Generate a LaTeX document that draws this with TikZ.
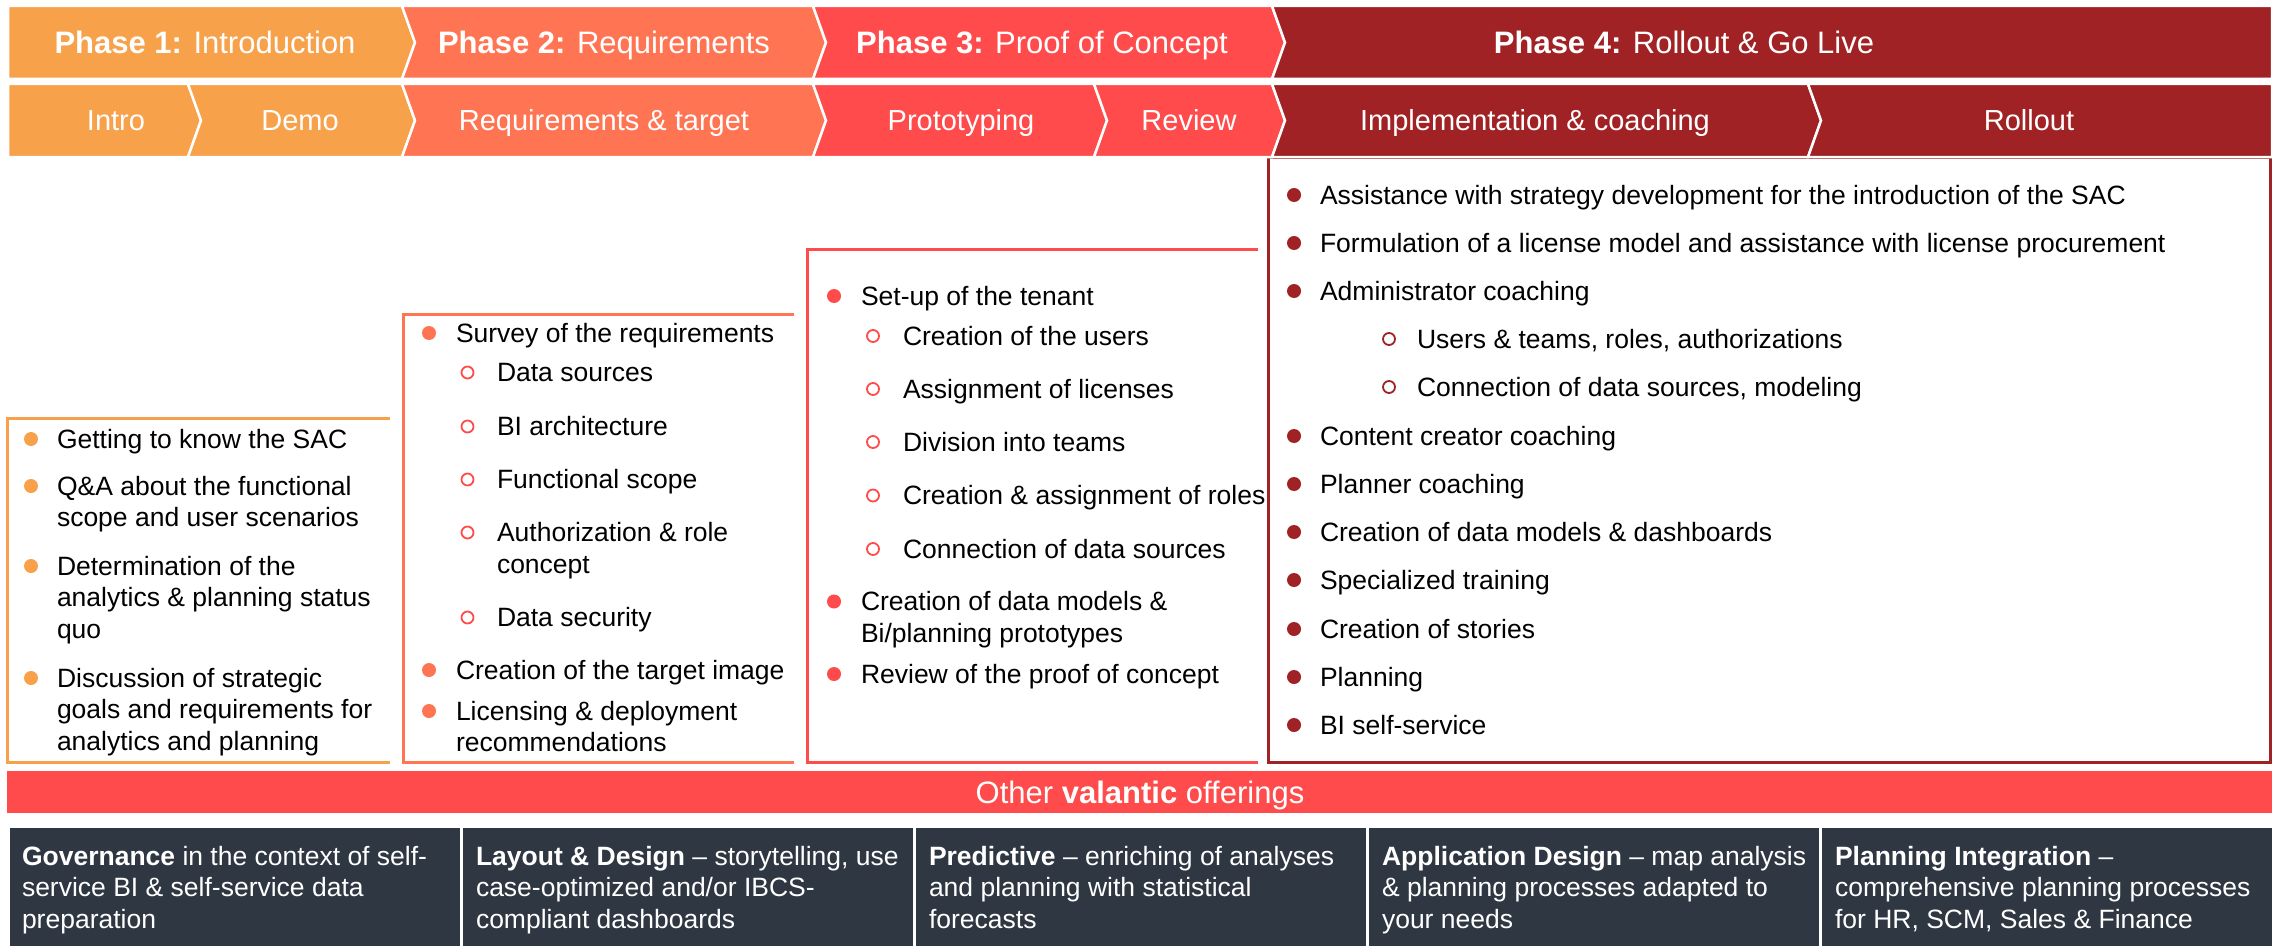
\documentclass[tikz,border=0pt]{standalone}
\usepackage{fontspec}
\setmainfont{Liberation Sans}
\definecolor{cA}{HTML}{F8A14B}
\definecolor{cB}{HTML}{FF7553}
\definecolor{cC}{HTML}{FF4B4B}
\definecolor{cD}{HTML}{A12224}
\definecolor{cDark}{HTML}{2F3742}
\newcommand{\bodyfont}{\fontsize{26.5}{31.7}\selectfont}
\newcommand{\txtlines}[1]{\parbox[t]{1000pt}{\bodyfont\raggedright #1}}
\newcommand{\bul}[6]{\node[dot=#2] (#1d) at (#3,#5-9) {}; \node[txt] (#1) at (#4,#5) {\txtlines{#6}};}
\newcommand{\subb}[6]{\node[ring=#2] (#1d) at (#3,#5-9) {}; \node[txt] (#1) at (#4,#5) {\txtlines{#6}};}
\newcommand{\subo}[6]{\node[oring=#2] (#1d) at (#3,#5-9) {}; \node[txt] (#1) at (#4,#5) {\txtlines{#6}};}
\begin{document}
\begin{tikzpicture}[x=1pt,y=-1pt,
  txt/.style={anchor=base west, inner sep=0pt, outer sep=0pt, text=black},
  wtxt/.style={txt, text=white},
  htxt/.style={anchor=base, inner sep=0pt, text=white, font=\fontsize{31}{37}\selectfont},
  h2txt/.style={anchor=base, inner sep=0pt, text=white, font=\fontsize{29}{35}\selectfont},
  dot/.style={circle, fill=#1, minimum size=14pt, inner sep=0pt},
  ring/.style={circle, draw=#1, line width=1.8pt, minimum size=12pt, inner sep=0pt},
  oring/.style={ellipse, draw=#1, line width=1.6pt, minimum width=9pt, minimum height=13pt, inner sep=0pt},
  chev/.style={fill=#1, draw=white, line width=2.5pt, line join=miter},
  boxline/.style={draw=#1, line width=3pt},
  darkbox/.style={fill=cDark, draw=white, line width=2.5pt, anchor=north west, minimum width=453pt, minimum height=121pt, inner sep=0pt}
]
\useasboundingbox (0,0) rectangle (2274,947);
\fill[white] (0,0) rectangle (2274,947);

% ---------- Box 1
\draw[boxline=cA] (390,418) -- (7,418) -- (7,762) -- (390,762);
\bul{a1}{cA}{31}{57}{448}{Getting to know the SAC}
\bul{a2}{cA}{31}{57}{495}{Q\&A about the functional\\scope and user scenarios}
\bul{a3}{cA}{31}{57}{575}{Determination of the\\analytics \& planning status\\quo}
\bul{a4}{cA}{31}{57}{687}{Discussion of strategic\\goals and requirements for\\analytics and planning}

% ---------- Box 2
\draw[boxline=cB] (794,314) -- (403,314) -- (403,762) -- (794,762);
\bul{b1}{cB}{429}{456}{342}{Survey of the requirements}
\subb{b2}{cC}{467.5}{497}{381.5}{Data sources}
\subb{b3}{cC}{467.5}{497}{435.5}{BI architecture}
\subb{b4}{cC}{467.5}{497}{488.5}{Functional scope}
\subb{b5}{cC}{467.5}{497}{541.5}{Authorization \& role\\concept}
\subb{b6}{cC}{467.5}{497}{626.5}{Data security}
\bul{b7}{cB}{429}{456}{679}{Creation of the target image}
\bul{b8}{cB}{429}{456}{720}{Licensing \& deployment\\recommendations}

% ---------- Box 3
\draw[boxline=cC] (1258,249) -- (807,249) -- (807,762) -- (1258,762);
\bul{c1}{cC}{834}{861}{305}{Set-up of the tenant}
\subb{c2}{cC}{873}{903}{345}{Creation of the users}
\subb{c3}{cC}{873}{903}{398}{Assignment of licenses}
\subb{c4}{cC}{873}{903}{451}{Division into teams}
\subb{c5}{cC}{873}{903}{504.5}{Creation \& assignment of roles}
\subb{c6}{cC}{873}{903}{558}{Connection of data sources}
\bul{c7}{cC}{834}{861}{610.5}{Creation of data models \&\\Bi/planning prototypes}
\bul{c8}{cC}{834}{861}{683}{Review of the proof of concept}

% ---------- Box 4
\path[fill=white, boxline=cD] (1268,157) rectangle (2270,762);
\bul{d1}{cD}{1294}{1320}{204}{Assistance with strategy development for the introduction of the SAC}
\bul{d2}{cD}{1294}{1320}{252}{Formulation of a license model and assistance with license procurement}
\bul{d3}{cD}{1294}{1320}{300}{Administrator coaching}
\subb{d4}{cD}{1389}{1417}{348}{Users \& teams, roles, authorizations}
\subb{d5}{cD}{1389}{1417}{396}{Connection of data sources, modeling}
\bul{d6}{cD}{1294}{1320}{445}{Content creator coaching}
\bul{d7}{cD}{1294}{1320}{493}{Planner coaching}
\bul{d8}{cD}{1294}{1320}{541}{Creation of data models \& dashboards}
\bul{d9}{cD}{1294}{1320}{589}{Specialized training}
\bul{d10}{cD}{1294}{1320}{638}{Creation of stories}
\bul{d11}{cD}{1294}{1320}{686}{Planning}
\bul{d12}{cD}{1294}{1320}{734}{BI self-service}

% ---------- Header row 1
\path[chev=cA] (8,6) -- (402,6) -- (415,42.5) -- (402,79) -- (8,79) -- cycle;
\path[chev=cB] (402,6) -- (813,6) -- (826,42.5) -- (813,79) -- (402,79) -- (415,42.5) -- cycle;
\path[chev=cC] (813,6) -- (1272,6) -- (1285,42.5) -- (1272,79) -- (813,79) -- (826,42.5) -- cycle;
\path[chev=cD] (1272,6) -- (2272,6) -- (2272,79) -- (1272,79) -- (1285,42.5) -- cycle;
\node[htxt] (p1) at (205,54) {\textbf{Phase 1:} Introduction};
\node[htxt] (p2) at (604,54) {\textbf{Phase 2:} Requirements};
\node[htxt] (p3) at (1042,54) {\textbf{Phase 3:} Proof of Concept};
\node[htxt] (p4) at (1684,54) {\textbf{Phase 4:} Rollout \& Go Live};

% ---------- Header row 2
\path[chev=cA] (8,84) -- (188,84) -- (201,120.5) -- (188,157) -- (8,157) -- cycle;
\path[chev=cA] (188,84) -- (402,84) -- (415,120.5) -- (402,157) -- (188,157) -- (201,120.5) -- cycle;
\path[chev=cB] (402,84) -- (813,84) -- (826,120.5) -- (813,157) -- (402,157) -- (415,120.5) -- cycle;
\path[chev=cC] (813,84) -- (1094,84) -- (1107,120.5) -- (1094,157) -- (813,157) -- (826,120.5) -- cycle;
\path[chev=cC] (1094,84) -- (1272,84) -- (1285,120.5) -- (1272,157) -- (1094,157) -- (1107,120.5) -- cycle;
\path[chev=cD] (1272,84) -- (1808,84) -- (1821,120.5) -- (1808,157) -- (1272,157) -- (1285,120.5) -- cycle;
\path[chev=cD] (1808,84) -- (2272,84) -- (2272,157) -- (1808,157) -- (1821,120.5) -- cycle;
\node[h2txt] (s1) at (116,131) {Intro};
\node[h2txt] (s2) at (300,131) {Demo};
\node[h2txt] (s3) at (604,131) {Requirements \& target};
\node[h2txt] (s4) at (961,131) {Prototyping};
\node[h2txt] (s5) at (1189,131) {Review};
\node[h2txt] (s6) at (1535,131) {Implementation \& coaching};
\node[h2txt] (s7) at (2029,131) {Rollout};

% ---------- Other offerings
\node[fill=cC, anchor=north west, minimum width=2265pt, minimum height=42pt, inner sep=0pt] (bar) at (7,771) {};
\node[htxt] (bart) at (1140,803) {Other \textbf{valantic} offerings};

\node[darkbox] (o1) at (7,825) {};
\node[darkbox] (o2) at (460,825) {};
\node[darkbox] (o3) at (913,825) {};
\node[darkbox] (o4) at (1366,825) {};
\node[darkbox] (o5) at (1819,825) {};
\node[wtxt] (o1t) at (22,865) {\txtlines{\textbf{Governance} in the context of self-\\service BI \& self-service data\\preparation}};
\node[wtxt] (o2t) at (476,865) {\txtlines{\textbf{Layout \& Design} – storytelling, use\\case-optimized and/or IBCS-\\compliant dashboards}};
\node[wtxt] (o3t) at (929,865) {\txtlines{\textbf{Predictive} – enriching of analyses\\and planning with statistical\\forecasts}};
\node[wtxt] (o4t) at (1382,865) {\txtlines{\textbf{Application Design} – map analysis\\\& planning processes adapted to\\your needs}};
\node[wtxt] (o5t) at (1835,865) {\txtlines{\textbf{Planning Integration} –\\comprehensive planning processes\\for HR, SCM, Sales \& Finance}};
\end{tikzpicture}
\end{document}
